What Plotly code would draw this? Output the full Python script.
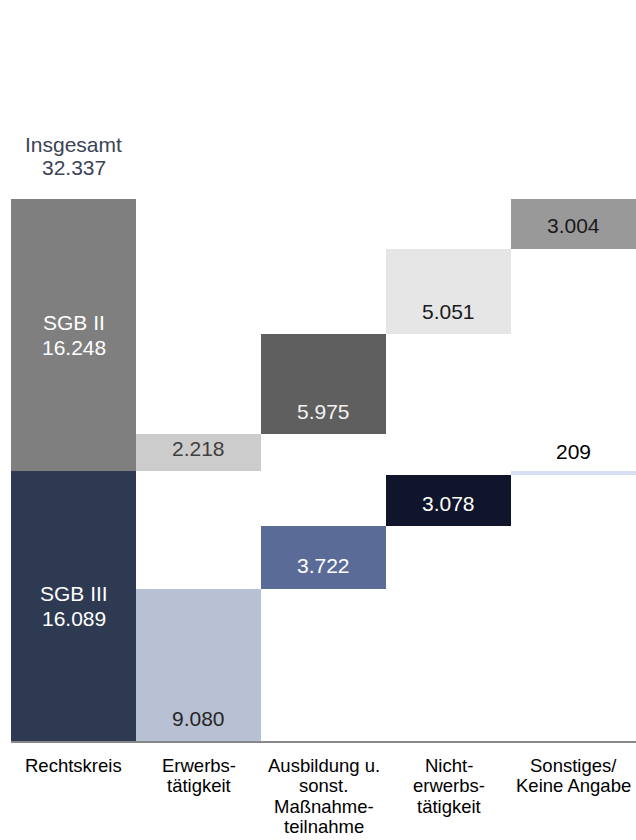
import numpy as np
import plotly.graph_objects as go

# ---- data -------------------------------------------------------------
columns = ["Rechtskreis", "Erwerbstätigkeit", "Ausbildung",
           "Nichterwerbstätigkeit", "Sonstiges"]
column_labels = [
    "Rechtskreis",
    "Erwerbs-\ntätigkeit",
    "Ausbildung u.\nsonst.\nMaßnahme-\nteilnahme",
    "Nicht-\nerwerbs-\ntätigkeit",
    "Sonstiges/\nKeine Angabe",
]
rechtskreise = ["SGB III", "SGB II"]
rechtskreis_totals = [16089, 16248]
total_label = "Insgesamt"
total_value = 32337
sgb3_outflows = [9080, 3722, 3078, 209]
sgb2_outflows = [2218, 5975, 5051, 3004]

# ---- styling ----------------------------------------------------------
FONT = "Liberation Sans, Arial, sans-serif"
rk_colors = ["#2e3a52", "#7f7f7f"]
sgb3_colors = ["#b8c0d3", "#5b6b97", "#10152b", "#d9dff2"]
sgb3_text = ["#262626", "#ffffff", "#ffffff", "#000000"]
sgb3_lift = [23, 23, 23, 23]          # px above the bar bottom
sgb2_colors = ["#cccccc", "#5f5f5f", "#e6e6e6", "#999999"]
sgb2_text = ["#404040", "#f2f2f2", "#1a1a1a", "#1a1a1a"]
sgb2_lift = [23, 23, 23, 24]


def fmt(v):
    return f"{v:,}".replace(",", ".")


outflow_cols = columns[1:]
sgb3_base = np.concatenate([[0], np.cumsum(sgb3_outflows)[:-1]])
sgb2_base = rechtskreis_totals[0] + np.concatenate([[0], np.cumsum(sgb2_outflows)[:-1]])
rk_base = np.concatenate([[0], np.cumsum(rechtskreis_totals)[:-1]])

fig = go.Figure()

# Rechtskreis column: SGB III at the bottom, SGB II stacked on top
fig.add_trace(go.Bar(
    x=[columns[0]] * 2, y=rechtskreis_totals, base=rk_base,
    marker=dict(color=rk_colors, line=dict(width=0)),
    width=1, showlegend=False, hoverinfo="skip",
))
# outflows of SGB III (floating from 0 upwards)
fig.add_trace(go.Bar(
    x=outflow_cols, y=sgb3_outflows, base=sgb3_base,
    marker=dict(color=sgb3_colors, line=dict(width=0)),
    width=1, showlegend=False, hoverinfo="skip",
))
# outflows of SGB II (floating above the SGB III total)
fig.add_trace(go.Bar(
    x=outflow_cols, y=sgb2_outflows, base=sgb2_base,
    marker=dict(color=sgb2_colors, line=dict(width=0)),
    width=1, showlegend=False, hoverinfo="skip",
))

annotations = []


def add_text(x, y, text, color, size, yshift, yref="y"):
    annotations.append(dict(
        x=x, y=y, xref="x", yref=yref, text=text, showarrow=False,
        xanchor="center", yanchor="middle", yshift=yshift,
        font=dict(family=FONT, size=size, color=color),
    ))


# values on the outflow bars
for col, v, b, c, lift in zip(outflow_cols, sgb3_outflows, sgb3_base, sgb3_text, sgb3_lift):
    add_text(col, b, fmt(v), c, 21, lift)
for col, v, b, c, lift in zip(outflow_cols, sgb2_outflows, sgb2_base, sgb2_text, sgb2_lift):
    add_text(col, b, fmt(v), c, 21, lift)

# Rechtskreis segments: name and value centred in the bar
for name, v, b in zip(rechtskreise, rechtskreis_totals, rk_base):
    mid = b + v / 2
    add_text(columns[0], mid, name, "#ffffff", 21, 12.3)
    add_text(columns[0], mid, fmt(v), "#ffffff", 21, -12.3)

# overall total above the first column
add_text(columns[0], total_value, total_label, "#3b4356", 21, 54.5)
add_text(columns[0], total_value, fmt(total_value), "#3b4356", 21, 31.8)

# category labels below the axis, one annotation per line
for col, label in zip(columns, column_labels):
    for i, line in enumerate(label.split("\n")):
        add_text(col, 0, line, "#000000", 18.5, -(24.5 + i * 20.3), yref="paper")

px_per_unit = 542 / total_value
plot_h = 840 - 40 - 99

fig.update_layout(
    width=636, height=840,
    margin=dict(l=11, r=0, t=40, b=99, pad=0),
    paper_bgcolor="#ffffff", plot_bgcolor="#ffffff",
    barmode="overlay", bargap=0,
    annotations=annotations,
    font=dict(family=FONT),
    xaxis=dict(
        type="category", categoryorder="array", categoryarray=columns,
        range=[-0.5, 4.5], showgrid=False, zeroline=False,
        showline=True, linecolor="#888888", linewidth=2,
        ticks="", showticklabels=False, fixedrange=True,
    ),
    yaxis=dict(
        range=[0, plot_h / px_per_unit], showgrid=False, zeroline=False,
        showline=False, ticks="", showticklabels=False, fixedrange=True,
    ),
)

fig.write_html("out.html")
